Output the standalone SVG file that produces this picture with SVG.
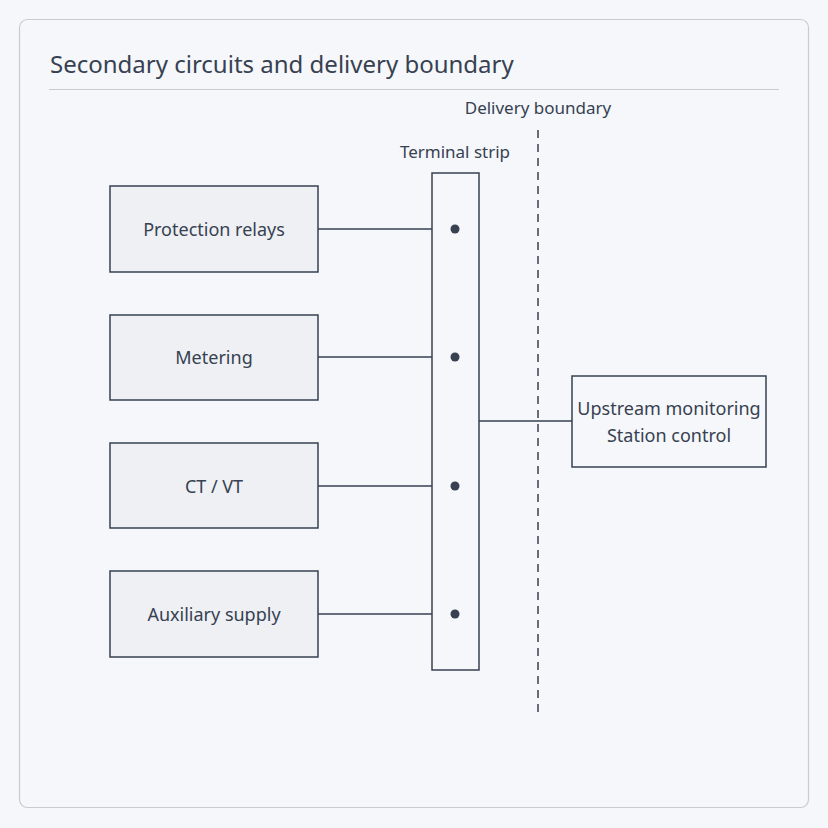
<svg xmlns="http://www.w3.org/2000/svg" width="828" height="828" viewBox="0 0 828 828">
<style>
text{font-family:"Noto Sans","Open Sans",sans-serif;fill:#374151}
.box{fill:#eef0f4;stroke:#374151;stroke-width:1.5}
.lbl{font-size:18px;text-anchor:middle}
.ln{stroke:#374151;stroke-width:1.5;fill:none}
</style>
<rect width="828" height="828" fill="#f5f7fa"/>
<rect x="19.5" y="19.5" width="789" height="788" rx="8" fill="#f5f7fa" stroke="#c8cbd2" stroke-width="1.2"/>
<text x="50" y="73" font-size="24">Secondary circuits and delivery boundary</text>
<line x1="49" y1="89.5" x2="779" y2="89.5" stroke="#c8cbd2" stroke-width="1.2"/>
<g id="boundary">
<line x1="538" y1="130" x2="538" y2="718" stroke="#374151" stroke-width="1.5" stroke-dasharray="8,6"/>
<text x="538" y="114" font-size="17" text-anchor="middle">Delivery boundary</text>
</g>
<g id="connectors">
<line class="ln" x1="318" y1="229" x2="432" y2="229"/>
<line class="ln" x1="318" y1="357" x2="432" y2="357"/>
<line class="ln" x1="318" y1="486" x2="432" y2="486"/>
<line class="ln" x1="318" y1="614" x2="432" y2="614"/>
<line class="ln" x1="479" y1="421" x2="572" y2="421"/>
</g>
<g id="terminal-strip">
<text x="455" y="158" font-size="17" text-anchor="middle">Terminal strip</text>
<rect x="432" y="173" width="47" height="497" fill="#f5f7fa" stroke="#374151" stroke-width="1.5"/>
<circle cx="455" cy="229" r="4.5" fill="#374151"/>
<circle cx="455" cy="357" r="4.5" fill="#374151"/>
<circle cx="455" cy="486" r="4.5" fill="#374151"/>
<circle cx="455" cy="614" r="4.5" fill="#374151"/>
</g>
<g id="protection"><rect class="box" x="110" y="186" width="208" height="86"/><text class="lbl" x="214" y="236">Protection relays</text></g>
<g id="metering"><rect class="box" x="110" y="315" width="208" height="85"/><text class="lbl" x="214" y="364">Metering</text></g>
<g id="ctvt"><rect class="box" x="110" y="443" width="208" height="85"/><text class="lbl" x="214" y="493">CT / VT</text></g>
<g id="aux"><rect class="box" x="110" y="571" width="208" height="86"/><text class="lbl" x="214" y="621">Auxiliary supply</text></g>
<g id="upstream"><rect x="572" y="376" width="194" height="91" fill="#f5f7fa" stroke="#374151" stroke-width="1.5"/><text class="lbl" x="669" y="415">Upstream monitoring</text><text class="lbl" x="669" y="442">Station control</text></g>
</svg>
